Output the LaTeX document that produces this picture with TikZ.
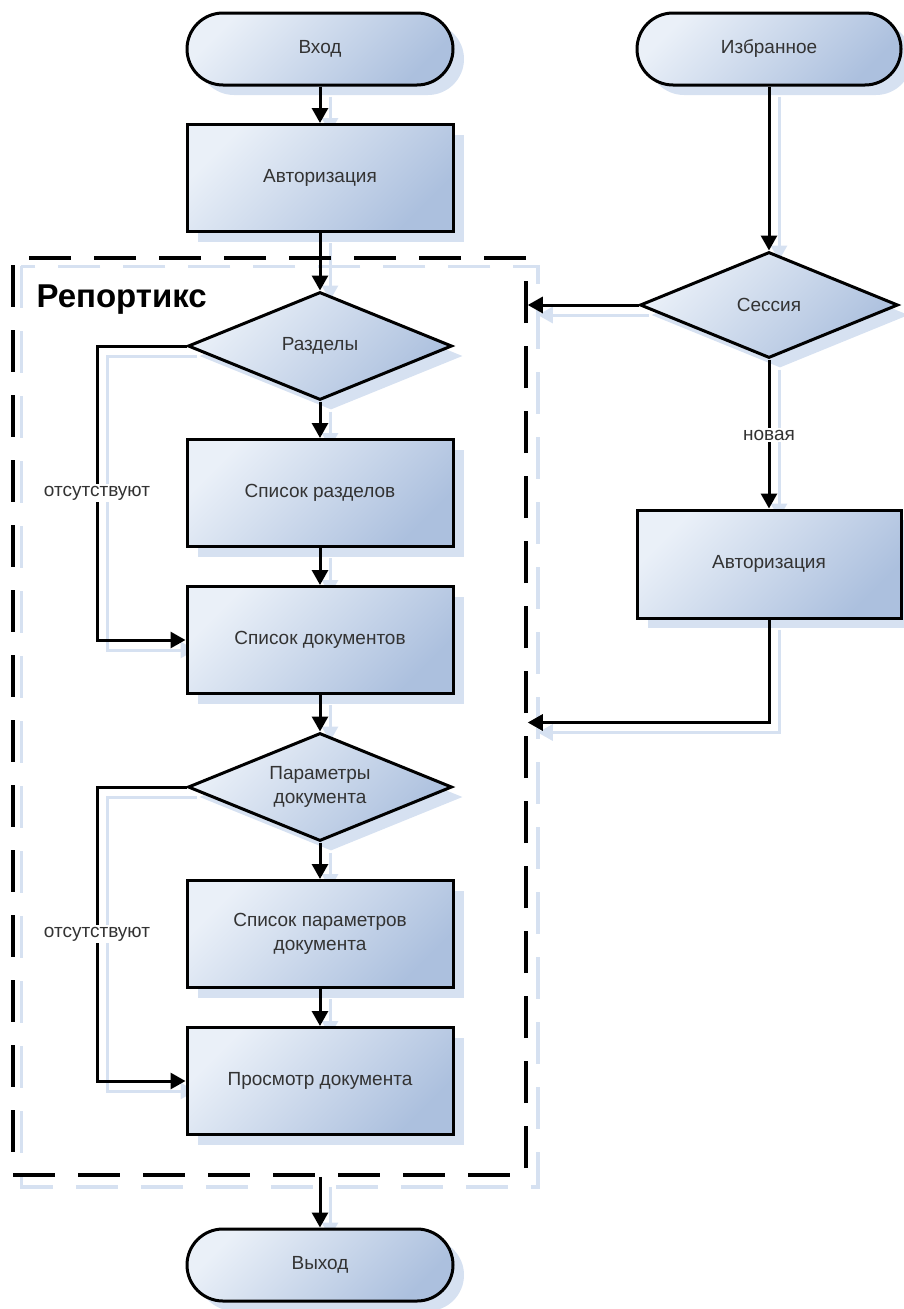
\documentclass[tikz,border=0pt]{standalone}
\usepackage{fontspec}
\setmainfont{Liberation Sans}
\usetikzlibrary{arrows.meta,shapes.geometric,shadows,positioning}
\definecolor{boxlight}{RGB}{234,240,248}
\definecolor{boxdark}{RGB}{172,192,222}
\definecolor{shadowblue}{RGB}{214,225,241}
\definecolor{textgray}{RGB}{51,51,51}
\pgfdeclarelayer{background}
\pgfsetlayers{background,main}
\tikzset{
    block/.style={draw=black, line width=3pt, top color=boxlight, bottom color=boxdark,
        shading angle=45, text=textgray, font=\fontsize{19}{24}\selectfont, align=center,
        inner sep=0pt, drop shadow={shadow xshift=11pt, shadow yshift=-10pt, opacity=1, fill=shadowblue}},
    process/.style={block, rectangle, minimum width=266pt, minimum height=107pt},
    terminal/.style={block, rectangle, rounded corners=36pt, minimum width=266pt, minimum height=72pt},
    decision/.style={block, diamond, aspect=2.45, minimum width=264pt, minimum height=108pt},
    flow/.style={line width=3pt, -{Triangle[length=15pt,width=16pt]}},
    frame/.style={line width=3.5pt, dash pattern=on 42pt off 23pt},
    lbl/.style={fill=white, text=textgray, font=\fontsize{19}{24}\selectfont, inner sep=2pt},
}
\newcommand\FlowLinks[1]{%
    \draw[flow,#1] (enter) -- (auth);
    \draw[flow,#1] (auth) -- (sect);
    \draw[flow,#1] (sect) -- (sectlist);
    \draw[flow,#1] (sectlist) -- (doclist);
    \draw[flow,#1] (doclist) -- (params);
    \draw[flow,#1] (params) -- (paramlist);
    \draw[flow,#1] (paramlist) -- (view);
    \draw[flow,#1] (exit |- reportix.south) -- (exit);
    \draw[flow,#1] (sect.west) -- (sect.west -| leftx) |- (doclist.west);
    \draw[flow,#1] (params.west) -- (params.west -| leftx) |- (view.west);
    \draw[flow,#1] (fav) -- (sess);
    \draw[flow,#1] (sess) -- (auth2);
    \draw[flow,#1] (sess.west) -- (sess.west -| reportix.east);
    \draw[flow,#1] (auth2.south) |- ([yshift=-6pt]reportix.east);
}
\begin{document}
\begin{tikzpicture}[x=1pt, y=-1pt]
    \useasboundingbox (0,0) rectangle (903,1309);
    \coordinate (leftx) at (97,0);
    \node[frame, draw, minimum width=513pt, minimum height=917pt, inner sep=0pt] (reportix) at (269.5,716.5) {};
    \node[anchor=base west, font=\fontsize{33}{40}\selectfont\bfseries] (title) at (33,307) {Репортикс};

    \node[terminal] (enter) at (320,49) {Вход};
    \node[process] (auth) at (320,178) {Авторизация};
    \node[decision] (sect) at (320,346) {Разделы};
    \node[process] (sectlist) at (320,493) {Список разделов};
    \node[process] (doclist) at (320,640) {Список документов};
    \node[decision] (params) at (320,787) {Параметры\\документа};
    \node[process] (paramlist) at (320,934) {Список параметров\\документа};
    \node[process] (view) at (320,1081) {Просмотр документа};
    \node[terminal] (exit) at (320,1265) {Выход};

    \node[terminal, minimum width=264pt] (fav) at (769,49) {Избранное};
    \node[decision, minimum width=258pt, minimum height=106pt] (sess) at (769,305) {Сессия};
    \node[process, minimum width=264pt, minimum height=108pt] (auth2) at (769,564) {Авторизация};

    \begin{pgfonlayer}{background}
        \begin{scope}[transform canvas={shift={(10pt,-10pt)}}]
            \FlowLinks{shadowblue}
            \draw[frame, shadowblue] (reportix.north west) rectangle (reportix.south east);
        \end{scope}
    \end{pgfonlayer}
    \FlowLinks{black}

    \node[lbl] (absentA) at (97,493) {отсутствуют};
    \node[lbl] (absentB) at (97,934) {отсутствуют};
    \node[lbl] (fresh) at (769,435) {новая};
\end{tikzpicture}
\end{document}
